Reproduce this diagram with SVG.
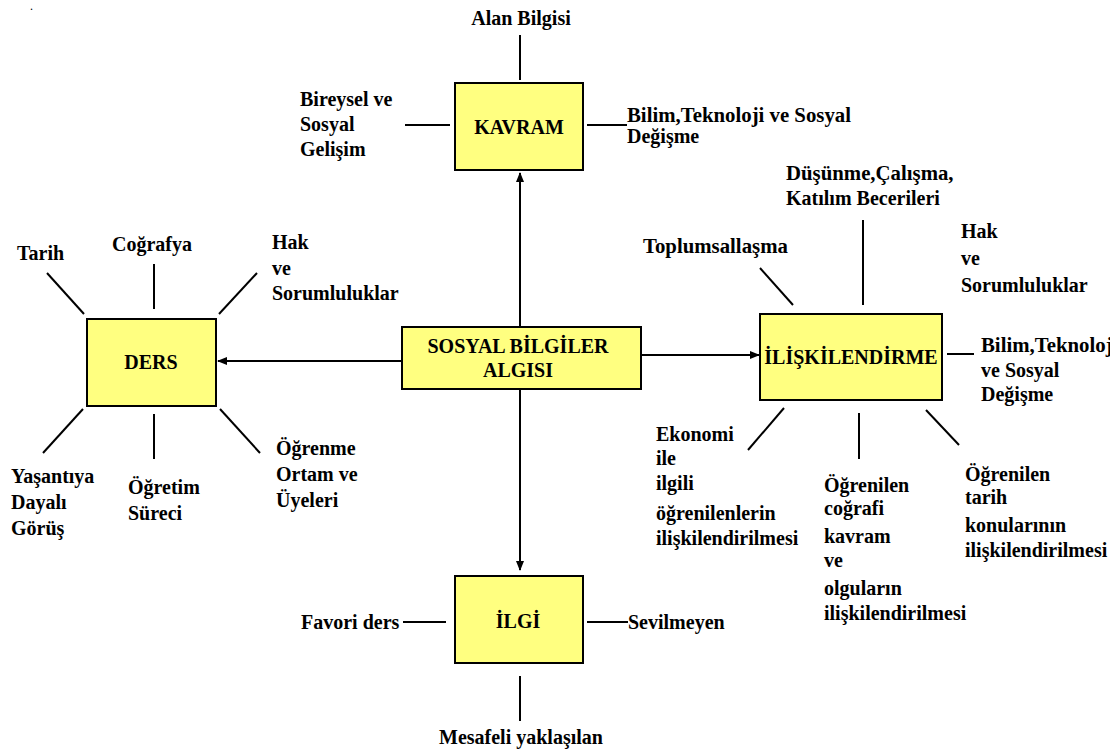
<svg xmlns="http://www.w3.org/2000/svg" width="1110" height="751" viewBox="0 0 1110 751">
<style>
text{font-family:'Liberation Serif','DejaVu Serif',serif;font-weight:700;font-size:20px;fill:#000}
.c{text-anchor:middle}
.w{font-size:20.8px}
.box{fill:#FFFF80;stroke:#000;stroke-width:2}
.ln{stroke:#000;stroke-width:2;fill:none}
</style>
<defs>
<marker id="ah" markerWidth="10" markerHeight="10" refX="9" refY="5" orient="auto" markerUnits="userSpaceOnUse">
<path d="M0,1 L10,5 L0,9 Z" fill="#000"/>
</marker>
</defs>
<rect width="1110" height="751" fill="#fff"/>
<text x="30" y="10" style="font-size:12px;font-weight:normal">.</text>

<g id="connectors">
<line class="ln" x1="520" y1="327" x2="520" y2="173" marker-end="url(#ah)"/>
<line class="ln" x1="402" y1="361" x2="218" y2="361" marker-end="url(#ah)"/>
<line class="ln" x1="641" y1="355" x2="759" y2="355" marker-end="url(#ah)"/>
<line class="ln" x1="520" y1="389" x2="520" y2="570" marker-end="url(#ah)"/>
<line class="ln" x1="520" y1="35" x2="520" y2="80"/>
<line class="ln" x1="405" y1="125" x2="450" y2="125"/>
<line class="ln" x1="587" y1="125" x2="627" y2="125"/>
<line class="ln" x1="47" y1="273" x2="84" y2="314"/>
<line class="ln" x1="154" y1="264" x2="154" y2="309"/>
<line class="ln" x1="257" y1="273" x2="219" y2="314"/>
<line class="ln" x1="83" y1="409" x2="43" y2="453"/>
<line class="ln" x1="154" y1="414" x2="154" y2="459"/>
<line class="ln" x1="220" y1="409" x2="260" y2="453"/>
<line class="ln" x1="760" y1="268" x2="793" y2="305"/>
<line class="ln" x1="863" y1="220" x2="863" y2="305"/>
<line class="ln" x1="947" y1="354" x2="974" y2="354"/>
<line class="ln" x1="784" y1="408" x2="748" y2="450"/>
<line class="ln" x1="859" y1="413" x2="859" y2="459"/>
<line class="ln" x1="926" y1="410" x2="959" y2="445"/>
<line class="ln" x1="403" y1="622" x2="446" y2="622"/>
<line class="ln" x1="587" y1="622" x2="628" y2="622"/>
<line class="ln" x1="520" y1="676" x2="520" y2="721"/>
</g>

<g id="kavram">
<rect class="box" x="455" y="83" width="128" height="87"/>
<text class="c" x="519" y="134">KAVRAM</text>
</g>
<g id="alan-bilgisi"><text class="c" x="521" y="25">Alan Bilgisi</text></g>
<g id="bireysel"><text x="300" y="106">Bireysel ve</text><text x="300" y="131">Sosyal</text><text x="300" y="156">Gelişim</text></g>
<g id="bilim1"><text class="w" x="627" y="122">Bilim,Teknoloji ve Sosyal</text><text x="627" y="143">Değişme</text></g>

<g id="sosyal-bilgiler">
<rect class="box" x="402" y="327" width="239" height="62"/>
<text class="c" x="518" y="353">SOSYAL BİLGİLER</text>
<text class="c" x="518" y="377">ALGISI</text>
</g>

<g id="ders">
<rect class="box" x="87" y="319" width="129" height="87"/>
<text class="c" x="151" y="369">DERS</text>
</g>
<g id="tarih"><text x="17" y="260">Tarih</text></g>
<g id="cografya"><text x="112" y="251">Coğrafya</text></g>
<g id="hak1"><text x="272" y="249">Hak</text><text x="272" y="275">ve</text><text x="272" y="300">Sorumluluklar</text></g>
<g id="yasantiya"><text x="11" y="483">Yaşantıya</text><text x="11" y="509">Dayalı</text><text x="11" y="535">Görüş</text></g>
<g id="ogretim"><text x="128" y="494">Öğretim</text><text x="128" y="520">Süreci</text></g>
<g id="ogrenme"><text x="276" y="455">Öğrenme</text><text x="276" y="481">Ortam ve</text><text x="276" y="507">Üyeleri</text></g>

<g id="iliskilendirme">
<rect class="box" x="760" y="314" width="182" height="86"/>
<text class="c" x="851" y="364">İLİŞKİLENDİRME</text>
</g>
<g id="toplumsallasma"><text class="w" x="643" y="253">Toplumsallaşma</text></g>
<g id="dusunme"><text class="w" x="786" y="180">Düşünme,Çalışma,</text><text x="786" y="205">Katılım Becerileri</text></g>
<g id="hak2"><text x="961" y="238">Hak</text><text x="961" y="265">ve</text><text x="961" y="292">Sorumluluklar</text></g>
<g id="bilim2"><text class="w" x="981" y="352">Bilim,Teknoloji</text><text x="981" y="377">ve Sosyal</text><text x="981" y="401">Değişme</text></g>
<g id="ekonomi"><text x="656" y="441">Ekonomi</text><text x="656" y="465">ile</text><text x="656" y="490">ilgili</text><text x="656" y="520">öğrenilenlerin</text><text x="656" y="545">ilişkilendirilmesi</text></g>
<g id="cografi"><text x="824" y="492">Öğrenilen</text><text x="824" y="515">coğrafi</text><text x="824" y="543">kavram</text><text x="824" y="567">ve</text><text x="824" y="595">olguların</text><text x="824" y="620">ilişkilendirilmesi</text></g>
<g id="tarih2"><text x="965" y="481">Öğrenilen</text><text x="965" y="504">tarih</text><text x="965" y="532">konularının</text><text x="965" y="557">ilişkilendirilmesi</text></g>

<g id="ilgi">
<rect class="box" x="455" y="576" width="128" height="87"/>
<text class="c" x="518" y="628">İLGİ</text>
</g>
<g id="favori"><text x="301" y="629">Favori ders</text></g>
<g id="sevilmeyen"><text x="628" y="629">Sevilmeyen</text></g>
<g id="mesafeli"><text class="c" x="521" y="744">Mesafeli yaklaşılan</text></g>
</svg>
